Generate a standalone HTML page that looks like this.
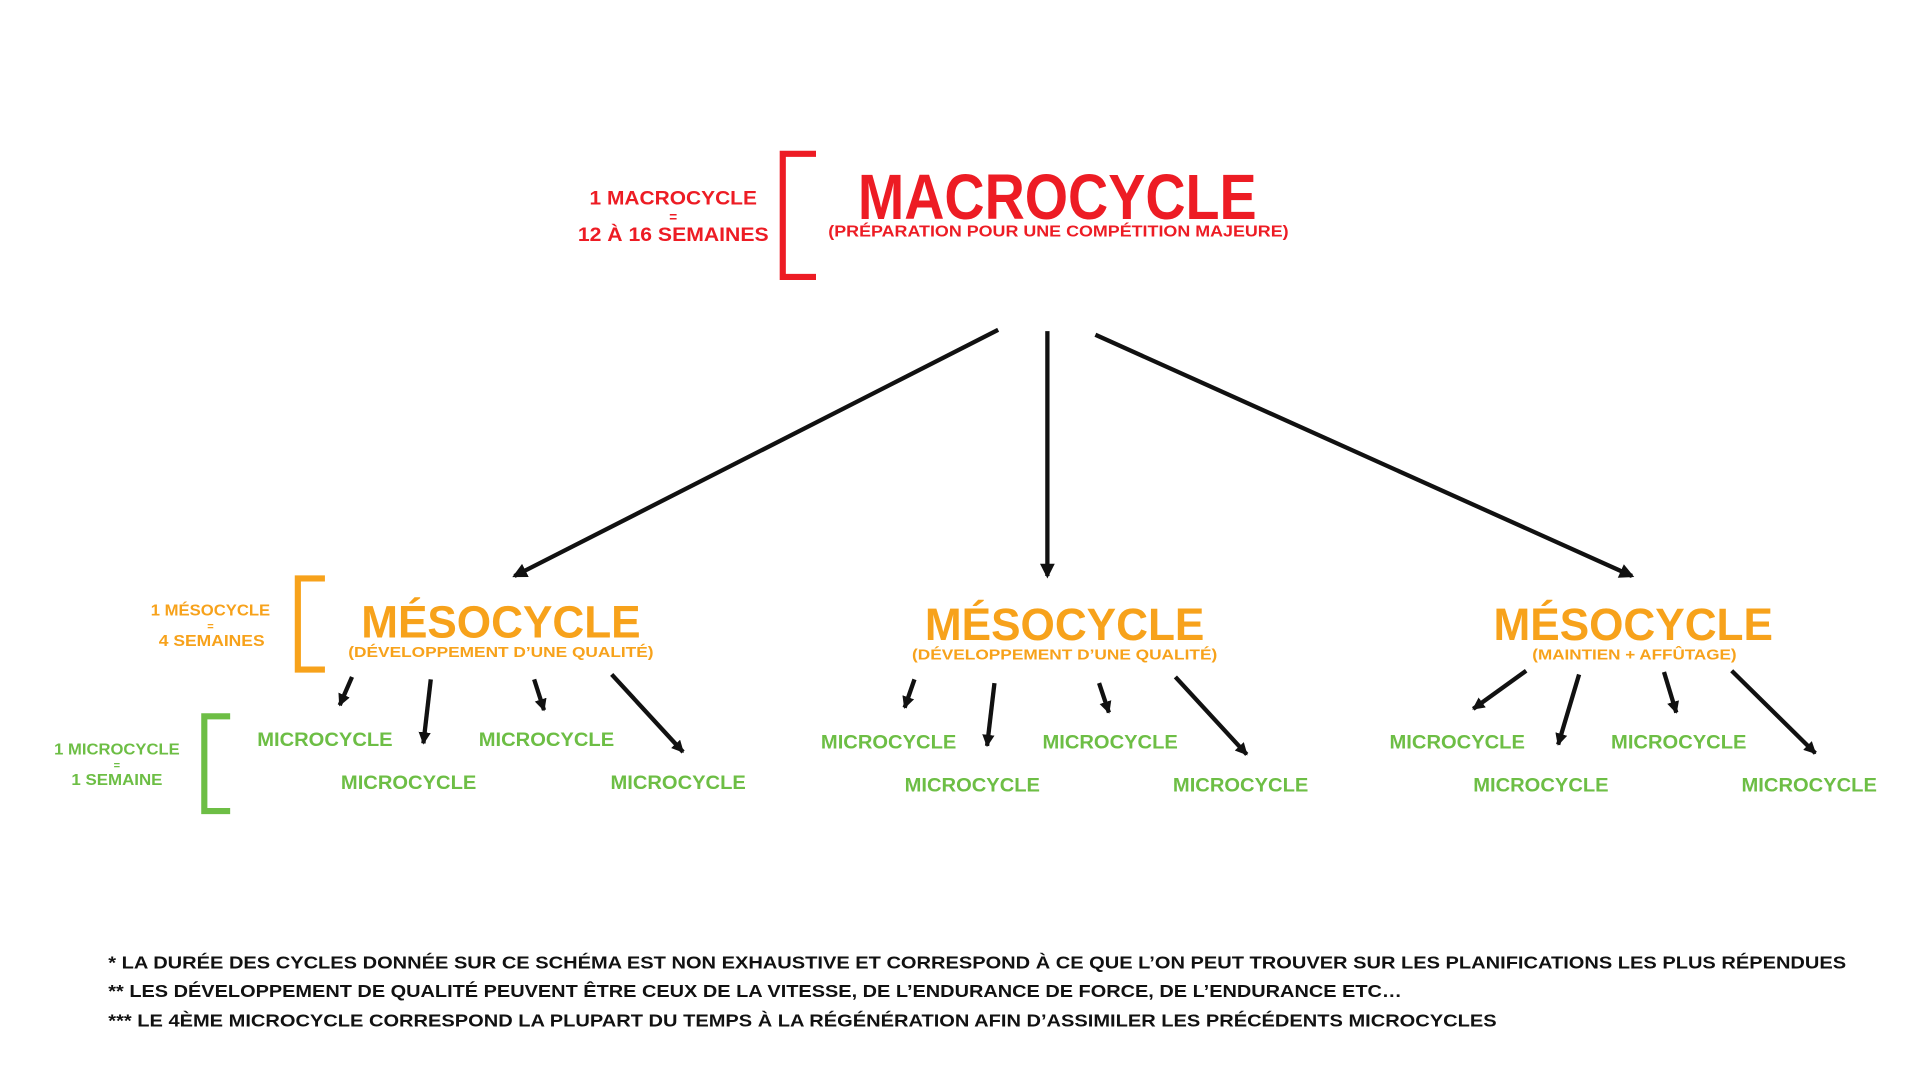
<!DOCTYPE html>
<html><head><meta charset="utf-8"><style>html,body{margin:0;padding:0;background:#fff}svg{display:block}</style></head>
<body>
<svg width="1920" height="1080" viewBox="0 0 1560 877.5" xmlns="http://www.w3.org/2000/svg" font-family="'Liberation Sans', sans-serif" font-weight="bold">
<defs>
<marker id="ah" markerUnits="userSpaceOnUse" markerWidth="14" markerHeight="14" refX="10" refY="6" orient="auto"><path d="M0,0 L12,6 L0,12 z" fill="#111"/></marker>
<marker id="as" markerUnits="userSpaceOnUse" markerWidth="12" markerHeight="12" refX="9" refY="5" orient="auto"><path d="M0,0 L10,5 L0,10 z" fill="#111"/></marker>
</defs>
<rect width="1560" height="877.5" fill="#fff"/>
<!-- Macro -->
<path d="M663,125 H636 V225 H663" fill="none" stroke="#ed1c24" stroke-width="5"/>
<g fill="#ed1c24" text-anchor="middle">
<text x="547" y="166" font-size="16" textLength="136" lengthAdjust="spacingAndGlyphs">1 MACROCYCLE</text>
<text x="547" y="180" font-size="11">=</text>
<text x="547" y="196" font-size="16" textLength="155" lengthAdjust="spacingAndGlyphs">12 À 16 SEMAINES</text>
<text x="859" y="178" font-size="52" textLength="324" lengthAdjust="spacingAndGlyphs">MACROCYCLE</text>
<text x="860" y="192" font-size="13" textLength="374" lengthAdjust="spacingAndGlyphs">(PRÉPARATION POUR UNE COMPÉTITION MAJEURE)</text>
</g>
<g stroke="#111" stroke-width="3.5" fill="none" marker-end="url(#ah)">
<line x1="811" y1="268" x2="418" y2="468"/>
<line x1="851" y1="269" x2="851" y2="468"/>
<line x1="890" y1="272" x2="1326" y2="468"/>
</g>
<!-- Meso brackets -->
<path d="M264,470 H242 V544 H264" fill="none" stroke="#f7a21b" stroke-width="5"/>
<path d="M187,582 H166 V659 H187" fill="none" stroke="#6dbe45" stroke-width="5"/>
<g fill="#f7a21b" text-anchor="middle">
<text x="171" y="500" font-size="13" textLength="97" lengthAdjust="spacingAndGlyphs">1 MÉSOCYCLE</text>
<text x="171" y="512" font-size="9">=</text>
<text x="172" y="525" font-size="13" textLength="86" lengthAdjust="spacingAndGlyphs">4 SEMAINES</text>
<text x="407" y="518" font-size="37" textLength="227" lengthAdjust="spacingAndGlyphs">MÉSOCYCLE</text>
<text x="407" y="534" font-size="12" textLength="248" lengthAdjust="spacingAndGlyphs">(DÉVELOPPEMENT D’UNE QUALITÉ)</text>
<text x="865" y="520" font-size="37" textLength="227" lengthAdjust="spacingAndGlyphs">MÉSOCYCLE</text>
<text x="865" y="536" font-size="12" textLength="248" lengthAdjust="spacingAndGlyphs">(DÉVELOPPEMENT D’UNE QUALITÉ)</text>
<text x="1327" y="520" font-size="37" textLength="227" lengthAdjust="spacingAndGlyphs">MÉSOCYCLE</text>
<text x="1328" y="536" font-size="12" textLength="166" lengthAdjust="spacingAndGlyphs">(MAINTIEN + AFFÛTAGE)</text>
</g>
<g fill="#6dbe45" text-anchor="middle">
<text x="95" y="613" font-size="13" textLength="102" lengthAdjust="spacingAndGlyphs">1 MICROCYCLE</text>
<text x="95" y="625" font-size="9">=</text>
<text x="95" y="638" font-size="13" textLength="74" lengthAdjust="spacingAndGlyphs">1 SEMAINE</text>
<g font-size="16">
<text x="264" y="606" textLength="110" lengthAdjust="spacingAndGlyphs">MICROCYCLE</text>
<text x="332" y="641" textLength="110" lengthAdjust="spacingAndGlyphs">MICROCYCLE</text>
<text x="444" y="606" textLength="110" lengthAdjust="spacingAndGlyphs">MICROCYCLE</text>
<text x="551" y="641" textLength="110" lengthAdjust="spacingAndGlyphs">MICROCYCLE</text>
<text x="722" y="608" textLength="110" lengthAdjust="spacingAndGlyphs">MICROCYCLE</text>
<text x="790" y="643" textLength="110" lengthAdjust="spacingAndGlyphs">MICROCYCLE</text>
<text x="902" y="608" textLength="110" lengthAdjust="spacingAndGlyphs">MICROCYCLE</text>
<text x="1008" y="643" textLength="110" lengthAdjust="spacingAndGlyphs">MICROCYCLE</text>
<text x="1184" y="608" textLength="110" lengthAdjust="spacingAndGlyphs">MICROCYCLE</text>
<text x="1252" y="643" textLength="110" lengthAdjust="spacingAndGlyphs">MICROCYCLE</text>
<text x="1364" y="608" textLength="110" lengthAdjust="spacingAndGlyphs">MICROCYCLE</text>
<text x="1470" y="643" textLength="110" lengthAdjust="spacingAndGlyphs">MICROCYCLE</text>
</g>
</g>
<g stroke="#111" stroke-width="3.5" fill="none" marker-end="url(#as)">
<line x1="286" y1="550" x2="276" y2="573"/>
<line x1="350" y1="552" x2="344" y2="604"/>
<line x1="434" y1="552" x2="442" y2="577"/>
<line x1="497" y1="548" x2="555" y2="611"/>
<line x1="743" y1="552" x2="735" y2="575"/>
<line x1="808" y1="555" x2="802" y2="606"/>
<line x1="893" y1="555" x2="901" y2="579"/>
<line x1="955" y1="550" x2="1013" y2="613"/>
<line x1="1240" y1="545" x2="1197" y2="576"/>
<line x1="1283" y1="548" x2="1266" y2="605"/>
<line x1="1352" y1="546" x2="1362" y2="579"/>
<line x1="1407" y1="545" x2="1475" y2="612"/>
</g>
<g fill="#111" font-size="14">
<text x="88" y="787" textLength="1412" lengthAdjust="spacingAndGlyphs">* LA DURÉE DES CYCLES DONNÉE SUR CE SCHÉMA EST NON EXHAUSTIVE ET CORRESPOND À CE QUE L’ON PEUT TROUVER SUR LES PLANIFICATIONS LES PLUS RÉPENDUES</text>
<text x="88" y="810" textLength="1051" lengthAdjust="spacingAndGlyphs">** LES DÉVELOPPEMENT DE QUALITÉ PEUVENT ÊTRE CEUX DE LA VITESSE, DE L’ENDURANCE DE FORCE, DE L’ENDURANCE ETC…</text>
<text x="88" y="834" textLength="1128" lengthAdjust="spacingAndGlyphs">*** LE 4ÈME MICROCYCLE CORRESPOND LA PLUPART DU TEMPS À LA RÉGÉNÉRATION AFIN D’ASSIMILER LES PRÉCÉDENTS MICROCYCLES</text>
</g>
</svg>
</body></html>
